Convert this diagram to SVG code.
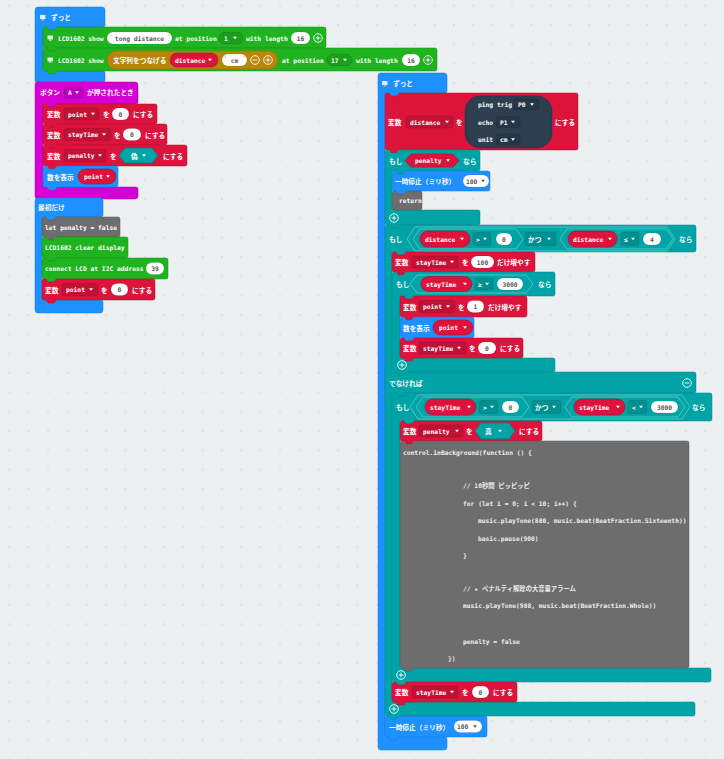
<svg xmlns="http://www.w3.org/2000/svg" width="724" height="759" viewBox="0 0 724 759">
<style>
text{dominant-baseline:central;font-weight:bold}
.m{font-family:"DejaVu Sans Mono","Noto Sans CJK JP",monospace;font-size:6.3px;fill:#fff}
.j{font-family:"Noto Sans CJK JP","Noto Sans",sans-serif;font-size:6.7px;fill:#fff}
.k{font-family:"DejaVu Sans Mono",monospace;font-size:6.3px;fill:#575757;text-anchor:middle}
.kd{font-family:"DejaVu Sans Mono",monospace;font-size:6.3px;fill:#575757}
.c{font-family:"DejaVu Sans Mono","Noto Sans CJK JP",monospace;font-size:6.3px;fill:#ededed}
.blue{fill:#1e90ff;stroke:#1a7ad9;stroke-width:.5}
.red{fill:#dc143c;stroke:#b41031;stroke-width:.5}
.teal{fill:#00a4a6;stroke:#008a8c;stroke-width:.5}
.purple{fill:#d400d4;stroke:#b000b0;stroke-width:.5}
.green{fill:#1fb41f;stroke:#189318;stroke-width:.5}
.gray{fill:#6d6d6d;stroke:#5a5a5a;stroke-width:.5}
.orange{fill:#b8860b;stroke:#9a700a;stroke-width:.5}
.sonar{fill:#2c3e50;stroke:#22303e;stroke-width:.5}
.dd{fill:rgba(0,0,0,.12);stroke:rgba(0,0,0,.22);stroke-width:.5}
.pill{fill:#fff;stroke:rgba(0,0,0,.15);stroke-width:.5}
.vr{fill:#dc143c;stroke:#a80f2e;stroke-width:.6}
.hx{fill:#00a4a6;stroke:#5fcbcc;stroke-width:.8}
.bt{fill:#00a4a6;stroke:#007c7e;stroke-width:.8}
.q{stroke:#999;stroke-width:.7}
</style>
<defs>
<path id="ar" d="M0,0h4l-2,2.5z"/>
<g id="plus"><circle r="4.3" fill="none" stroke="#fff" stroke-width=".9"/><path d="M-2.4,0h4.8M0,-2.4v4.8" stroke="#fff" stroke-width=".9"/></g>
<g id="minus"><circle r="4.3" fill="none" stroke="#fff" stroke-width=".9"/><path d="M-2.4,0h4.8" stroke="#fff" stroke-width=".9"/></g>
<g id="icon"><rect x="0" y="0" width="5.5" height="4" rx=".5" fill="#fff" fill-opacity=".85"/><path d="M1.5,4.8h2.5" stroke="#fff" stroke-width=".7"/></g>
<pattern id="dots" x="8.4" y="4.7" width="19.33" height="19.33" patternUnits="userSpaceOnUse"><circle cx="1" cy="1" r=".9" fill="#d6dadd"/></pattern>
</defs>
<rect width="724" height="759" fill="#ecf0f1"/>
<rect width="724" height="759" fill="url(#dots)"/>

<!-- LEFT: forever -->
<g id="forever-1">
<path class="blue" transform="translate(35,7)" d="M0,3 q0,-3 3,-3 H67 q3,0 3,3 V18 q0,2 -2,2 H22 l-2,3 h-6 l-2,-3 H10 q-2,0 -2,2 V62 q0,2 2,2 H68 q2,0 2,2 V73 q0,3 -3,3 H3 q-3,0 -3,-3 z"/>
<use href="#icon" x="40" y="15"/>
<text class="j" x="51" y="17">ずっと</text>
<g id="lcd-show-1">
<path class="green" transform="translate(43,27)" d="M0,2 q0,-2 2,-2 h2 l2,3 h6 l2,-3 H281 q2,0 2,2 V19 q0,2 -2,2 H14 l-2,3 h-6 l-2,-3 H2 q-2,0 -2,-2 z"/>
<use href="#icon" x="47.5" y="35.5"/>
<text class="m" x="58" y="38">LCD1602 show</text>
<rect class="pill" x="107" y="32" width="65" height="12" rx="6"/>
<path class="q" d="M110.5,34.5 l.8,1.6 M168.7,34.5 l.8,1.6"/>
<text class="k" x="139.5" y="38">tong distance</text>
<text class="m" x="175" y="38">at position</text>
<rect class="dd" x="219" y="32" width="24" height="12" rx="6"/>
<text class="m" x="224" y="38">1</text>
<use href="#ar" x="233" y="36.8" fill="#fff"/>
<text class="m" x="246" y="38">with length</text>
<rect class="pill" x="291" y="32" width="19" height="12" rx="6"/>
<text class="k" x="300.5" y="38">16</text>
<use href="#plus" x="318" y="38"/>
</g>
<g id="lcd-show-2">
<path class="green" transform="translate(43,48)" d="M0,2 q0,-2 2,-2 h2 l2,3 h6 l2,-3 H392 q2,0 2,2 V21 q0,2 -2,2 H14 l-2,3 h-6 l-2,-3 H2 q-2,0 -2,-2 z"/>
<use href="#icon" x="47.5" y="57.5"/>
<text class="m" x="58" y="60">LCD1602 show</text>
<g id="join">
<rect class="orange" x="107" y="51" width="171" height="18" rx="9"/>
<text class="j" x="113" y="60">文字列をつなげる</text>
<rect class="vr" x="170" y="53" width="48" height="14" rx="7"/>
<text class="m" x="175" y="60">distance</text>
<use href="#ar" x="208" y="58.8" fill="#fff"/>
<rect class="pill" x="222" y="54" width="25" height="12" rx="6"/>
<path class="q" d="M225,56 l.8,1.6 M243.5,56 l.8,1.6"/>
<text class="k" x="234.5" y="60">cm</text>
<use href="#minus" x="255" y="60"/>
<use href="#plus" x="268" y="60"/>
</g>
<text class="m" x="282" y="60">at position</text>
<rect class="dd" x="327" y="54" width="25" height="12" rx="6"/>
<text class="m" x="331" y="60">17</text>
<use href="#ar" x="343" y="58.8" fill="#fff"/>
<text class="m" x="356" y="60">with length</text>
<rect class="pill" x="402" y="54" width="18" height="12" rx="6"/>
<text class="k" x="411" y="60">16</text>
<use href="#plus" x="428" y="60"/>
</g>
</g>

<!-- LEFT: on button A -->
<g id="on-button-a">
<path class="purple" transform="translate(35,82)" d="M0,3 q0,-3 3,-3 H100 q3,0 3,3 V20 q0,2 -2,2 H22 l-2,3 h-6 l-2,-3 H10 q-2,0 -2,2 V103 q0,2 2,2 H101 q2,0 2,2 V114 q0,3 -3,3 H3 q-3,0 -3,-3 z"/>
<text class="j" x="40" y="92">ボタン</text>
<rect class="dd" x="64" y="87" width="19" height="11" rx="2"/>
<text class="m" x="68" y="92.5">A</text>
<use href="#ar" x="75" y="91.3" fill="#fff"/>
<text class="j" x="87" y="92">が押されたとき</text>
<g id="btn-set-point">
<path class="red" transform="translate(43,104)" d="M0,2 q0,-2 2,-2 h2 l2,3 h6 l2,-3 H112 q2,0 2,2 V18 q0,2 -2,2 H14 l-2,3 h-6 l-2,-3 H2 q-2,0 -2,-2 z"/>
<text class="j" x="47" y="114">変数</text>
<rect class="dd" x="64" y="108" width="35" height="12" rx="2"/>
<text class="m" x="68" y="114">point</text>
<use href="#ar" x="91" y="112.8" fill="#fff"/>
<text class="j" x="103" y="114">を</text>
<rect class="pill" x="112" y="108" width="17" height="12" rx="6"/>
<text class="k" x="120.5" y="114">0</text>
<text class="j" x="133" y="114">にする</text>
</g>
<g id="btn-set-staytime">
<path class="red" transform="translate(43,124)" d="M0,2 q0,-2 2,-2 h2 l2,3 h6 l2,-3 H122 q2,0 2,2 V19 q0,2 -2,2 H14 l-2,3 h-6 l-2,-3 H2 q-2,0 -2,-2 z"/>
<text class="j" x="47" y="134.5">変数</text>
<rect class="dd" x="64" y="128.5" width="47" height="12" rx="2"/>
<text class="m" x="68" y="134.5">stayTime</text>
<use href="#ar" x="102" y="133.3" fill="#fff"/>
<text class="j" x="114" y="134.5">を</text>
<rect class="pill" x="123" y="128.5" width="18" height="12" rx="6"/>
<text class="k" x="132" y="134.5">0</text>
<text class="j" x="145" y="134.5">にする</text>
</g>
<g id="btn-set-penalty">
<path class="red" transform="translate(43,145)" d="M0,2 q0,-2 2,-2 h2 l2,3 h6 l2,-3 H142 q2,0 2,2 V19 q0,2 -2,2 H14 l-2,3 h-6 l-2,-3 H2 q-2,0 -2,-2 z"/>
<text class="j" x="47" y="155.5">変数</text>
<rect class="dd" x="64" y="149.5" width="42" height="12" rx="2"/>
<text class="m" x="68" y="155.5">penalty</text>
<use href="#ar" x="98" y="154.3" fill="#fff"/>
<text class="j" x="110" y="155.5">を</text>
<polygon class="bt" points="119,155.5 125,148 152,148 158,155.5 152,163 125,163"/>
<text class="j" x="131" y="155.5">偽</text>
<use href="#ar" x="142" y="154.3" fill="#fff"/>
<text class="j" x="163" y="155.5">にする</text>
</g>
<g id="btn-show-number">
<path class="blue" transform="translate(43,166)" d="M0,2 q0,-2 2,-2 h2 l2,3 h6 l2,-3 H73 q2,0 2,2 V19 q0,2 -2,2 H14 l-2,3 h-6 l-2,-3 H2 q-2,0 -2,-2 z"/>
<text class="j" x="47" y="176.5">数を表示</text>
<rect class="vr" x="78" y="169" width="38" height="15" rx="7.5"/>
<text class="m" x="84" y="176.5">point</text>
<use href="#ar" x="106" y="175.3" fill="#fff"/>
</g>
</g>

<!-- LEFT: on start -->
<g id="on-start">
<path class="blue" transform="translate(35,198)" d="M0,3 q0,-3 3,-3 H65 q3,0 3,3 V17 q0,2 -2,2 H21 l-2,3 h-6 l-2,-3 H9 q-2,0 -2,2 V100 q0,2 2,2 H66 q2,0 2,2 V112 q0,3 -3,3 H3 q-3,0 -3,-3 z"/>
<text class="j" x="38" y="207">最初だけ</text>
<g id="let-penalty">
<path class="gray" transform="translate(42,217)" d="M0,2 q0,-2 2,-2 h2 l2,3 h6 l2,-3 H76 q2,0 2,2 V18 q0,2 -2,2 H14 l-2,3 h-6 l-2,-3 H2 q-2,0 -2,-2 z"/>
<text class="m" x="45" y="227">let penalty = false</text>
</g>
<g id="lcd-clear">
<path class="green" transform="translate(42,237)" d="M0,2 q0,-2 2,-2 h2 l2,3 h6 l2,-3 H84 q2,0 2,2 V19 q0,2 -2,2 H14 l-2,3 h-6 l-2,-3 H2 q-2,0 -2,-2 z"/>
<text class="m" x="45" y="247.5">LCD1602 clear display</text>
</g>
<g id="lcd-connect">
<path class="green" transform="translate(42,258)" d="M0,2 q0,-2 2,-2 h2 l2,3 h6 l2,-3 H124 q2,0 2,2 V19 q0,2 -2,2 H14 l-2,3 h-6 l-2,-3 H2 q-2,0 -2,-2 z"/>
<text class="m" x="45" y="268.5">connect LCD at I2C address</text>
<rect class="pill" x="146" y="262.5" width="18" height="12" rx="6"/>
<text class="k" x="155" y="268.5">39</text>
</g>
<g id="start-set-point">
<path class="red" transform="translate(42,279)" d="M0,2 q0,-2 2,-2 h2 l2,3 h6 l2,-3 H111 q2,0 2,2 V19 q0,2 -2,2 H14 l-2,3 h-6 l-2,-3 H2 q-2,0 -2,-2 z"/>
<text class="j" x="45" y="289.5">変数</text>
<rect class="dd" x="62" y="283.5" width="36" height="12" rx="2"/>
<text class="m" x="66" y="289.5">point</text>
<use href="#ar" x="89" y="288.3" fill="#fff"/>
<text class="j" x="101" y="289.5">を</text>
<rect class="pill" x="111" y="283.5" width="17" height="12" rx="6"/>
<text class="k" x="119.5" y="289.5">0</text>
<text class="j" x="132" y="289.5">にする</text>
</g>
</g>

<!-- RIGHT: forever -->
<g id="forever-2">
<path class="blue" transform="translate(378,73)" d="M0,3 q0,-3 3,-3 H66 q3,0 3,3 V18 q0,2 -2,2 H21 l-2,3 h-6 l-2,-3 H9 q-2,0 -2,2 V662 q0,2 2,2 H67 q2,0 2,2 V674 q0,3 -3,3 H3 q-3,0 -3,-3 z"/>
<use href="#icon" x="382" y="81"/>
<text class="j" x="393" y="83">ずっと</text>

<g id="set-distance">
<path class="red" transform="translate(385,93)" d="M0,2 q0,-2 2,-2 h2 l2,3 h6 l2,-3 H191 q2,0 2,2 V55 q0,2 -2,2 H14 l-2,3 h-6 l-2,-3 H2 q-2,0 -2,-2 z"/>
<text class="j" x="388" y="122">変数</text>
<rect class="dd" x="406" y="116" width="47" height="12" rx="2"/>
<text class="m" x="410" y="122">distance</text>
<use href="#ar" x="445" y="120.8" fill="#fff"/>
<text class="j" x="456" y="122">を</text>
<g id="ping">
<rect class="sonar" x="465" y="96" width="87" height="52" rx="15"/>
<text class="m" x="478" y="104.5">ping trig</text>
<rect class="dd" x="514" y="99" width="25" height="11" rx="2"/>
<text class="m" x="518" y="104.5">P0</text>
<use href="#ar" x="530" y="103.3" fill="#fff"/>
<text class="m" x="478" y="122">echo</text>
<rect class="dd" x="496" y="116.5" width="24" height="11" rx="2"/>
<text class="m" x="500" y="122">P1</text>
<use href="#ar" x="511" y="120.8" fill="#fff"/>
<text class="m" x="478" y="139.5">unit</text>
<rect class="dd" x="496" y="134" width="24" height="11" rx="2"/>
<text class="m" x="500" y="139.5">cm</text>
<use href="#ar" x="511" y="138.3" fill="#fff"/>
</g>
<text class="j" x="555" y="122">にする</text>
</g>

<g id="if-penalty">
<path class="teal" transform="translate(385,150)" d="M0,2 q0,-2 2,-2 h2 l2,3 h6 l2,-3 H93 q2,0 2,2 V19 q0,2 -2,2 H21 l-2,3 h-6 l-2,-3 H9 q-2,0 -2,2 V58 q0,2 2,2 H93 q2,0 2,2 V73 q0,2 -2,2 H14 l-2,3 h-6 l-2,-3 H2 q-2,0 -2,-2 z"/>
<text class="j" x="389" y="160.5">もし</text>
<polygon class="vr" points="405,160.5 411,154 453,154 459,160.5 453,167 411,167"/>
<text class="m" x="415" y="160.5">penalty</text>
<use href="#ar" x="446" y="159.3" fill="#fff"/>
<text class="j" x="463" y="160.5">なら</text>
<g id="pause-1">
<path class="blue" transform="translate(392,171)" d="M0,2 q0,-2 2,-2 h2 l2,3 h6 l2,-3 H96 q2,0 2,2 V18 q0,2 -2,2 H14 l-2,3 h-6 l-2,-3 H2 q-2,0 -2,-2 z"/>
<text class="j" x="395" y="181">一時停止（ミリ秒）</text>
<rect class="pill" x="463" y="175" width="26" height="12" rx="6"/>
<text class="kd" x="466" y="181">100</text>
<use href="#ar" x="481" y="179.8" fill="#575757"/>
</g>
<g id="return">
<path class="gray" transform="translate(392,191)" d="M0,2 q0,-2 2,-2 h2 l2,3 h6 l2,-3 H28 q2,0 2,2 V17 q0,2 -2,2 H2 q-2,0 -2,-2 z"/>
<text class="m" x="399" y="200.5">return</text>
</g>
<use href="#plus" x="394" y="218"/>
</g>

<g id="if-distance">
<path class="teal" transform="translate(385,225)" d="M0,2 q0,-2 2,-2 h2 l2,3 h6 l2,-3 H309 q2,0 2,2 V25 q0,2 -2,2 H21 l-2,3 h-6 l-2,-3 H9 q-2,0 -2,2 V145 q0,2 2,2 H309 q2,0 2,2 V166 q0,2 -2,2 H21 l-2,3 h-6 l-2,-3 H9 q-2,0 -2,2 V475 q0,2 2,2 H308 q2,0 2,2 V489 q0,2 -2,2 H14 l-2,3 h-6 l-2,-3 H2 q-2,0 -2,-2 z"/>
<text class="j" x="389" y="239">もし</text>
<polygon class="hx" points="407,239 415,227 667,227 675,239 667,251 415,251"/>
<polygon class="hx" points="413,239 420,229 516,229 523,239 516,249 420,249"/>
<rect class="vr" x="420" y="231" width="50" height="16" rx="8"/>
<text class="m" x="425" y="239">distance</text>
<use href="#ar" x="460" y="237.8" fill="#fff"/>
<rect class="dd" x="473" y="232.5" width="18" height="13" rx="2"/>
<text class="m" x="476" y="239">&gt;</text>
<use href="#ar" x="483" y="237.8" fill="#fff"/>
<rect class="pill" x="496" y="233" width="16" height="12" rx="6"/>
<text class="k" x="504" y="239">0</text>
<rect class="dd" x="525" y="232.5" width="31" height="13" rx="2"/>
<text class="j" x="528" y="239">かつ</text>
<use href="#ar" x="547" y="237.8" fill="#fff"/>
<polygon class="hx" points="560,239 567,229 666,229 673,239 666,249 567,249"/>
<rect class="vr" x="568" y="231" width="49" height="16" rx="8"/>
<text class="m" x="573" y="239">distance</text>
<use href="#ar" x="608" y="237.8" fill="#fff"/>
<rect class="dd" x="621" y="232.5" width="18" height="13" rx="2"/>
<text class="m" x="624" y="239">≤</text>
<use href="#ar" x="631" y="237.8" fill="#fff"/>
<rect class="pill" x="643" y="233" width="18" height="12" rx="6"/>
<text class="k" x="652" y="239">4</text>
<text class="j" x="679" y="239">なら</text>

<g id="change-staytime">
<path class="red" transform="translate(392,252)" d="M0,2 q0,-2 2,-2 h2 l2,3 h6 l2,-3 H141 q2,0 2,2 V18 q0,2 -2,2 H14 l-2,3 h-6 l-2,-3 H2 q-2,0 -2,-2 z"/>
<text class="j" x="395" y="262">変数</text>
<rect class="dd" x="412" y="256" width="46" height="12" rx="2"/>
<text class="m" x="416" y="262">stayTime</text>
<use href="#ar" x="450" y="260.8" fill="#fff"/>
<text class="j" x="462" y="262">を</text>
<rect class="pill" x="471" y="256" width="23" height="12" rx="6"/>
<text class="k" x="482.5" y="262">100</text>
<text class="j" x="497" y="262">だけ増やす</text>
</g>

<g id="if-staytime-3000">
<path class="teal" transform="translate(392,272)" d="M0,2 q0,-2 2,-2 h2 l2,3 h6 l2,-3 H161 q2,0 2,2 V22 q0,2 -2,2 H22 l-2,3 h-6 l-2,-3 H10 q-2,0 -2,2 V84 q0,2 2,2 H161 q2,0 2,2 V98 q0,2 -2,2 H14 l-2,3 h-6 l-2,-3 H2 q-2,0 -2,-2 z"/>
<text class="j" x="396" y="284">もし</text>
<polygon class="hx" points="410,284 417,275 526,275 533,284 526,293 417,293"/>
<rect class="vr" x="421" y="276.5" width="51" height="15" rx="7.5"/>
<text class="m" x="426" y="284">stayTime</text>
<use href="#ar" x="463" y="282.8" fill="#fff"/>
<rect class="dd" x="475" y="278" width="18" height="12" rx="2"/>
<text class="m" x="478" y="284">≥</text>
<use href="#ar" x="485" y="282.8" fill="#fff"/>
<rect class="pill" x="497" y="278" width="26" height="12" rx="6"/>
<text class="k" x="510" y="284">3000</text>
<text class="j" x="538" y="284">なら</text>
<g id="change-point">
<path class="red" transform="translate(400,296)" d="M0,2 q0,-2 2,-2 h2 l2,3 h6 l2,-3 H125 q2,0 2,2 V19 q0,2 -2,2 H14 l-2,3 h-6 l-2,-3 H2 q-2,0 -2,-2 z"/>
<text class="j" x="403" y="306.5">変数</text>
<rect class="dd" x="419" y="300.5" width="36" height="12" rx="2"/>
<text class="m" x="423" y="306.5">point</text>
<use href="#ar" x="446" y="305.3" fill="#fff"/>
<text class="j" x="458" y="306.5">を</text>
<rect class="pill" x="467" y="300.5" width="17" height="12" rx="6"/>
<text class="k" x="475.5" y="306.5">1</text>
<text class="j" x="488" y="306.5">だけ増やす</text>
</g>
<g id="show-number-2">
<path class="blue" transform="translate(400,317)" d="M0,2 q0,-2 2,-2 h2 l2,3 h6 l2,-3 H72 q2,0 2,2 V19 q0,2 -2,2 H14 l-2,3 h-6 l-2,-3 H2 q-2,0 -2,-2 z"/>
<text class="j" x="403" y="327.5">数を表示</text>
<rect class="vr" x="433" y="320" width="40" height="15" rx="7.5"/>
<text class="m" x="439" y="327.5">point</text>
<use href="#ar" x="463" y="326.3" fill="#fff"/>
</g>
<g id="reset-staytime-1">
<path class="red" transform="translate(400,338)" d="M0,2 q0,-2 2,-2 h2 l2,3 h6 l2,-3 H121 q2,0 2,2 V18 q0,2 -2,2 H14 l-2,3 h-6 l-2,-3 H2 q-2,0 -2,-2 z"/>
<text class="j" x="403" y="348">変数</text>
<rect class="dd" x="419" y="342" width="47" height="12" rx="2"/>
<text class="m" x="423" y="348">stayTime</text>
<use href="#ar" x="457" y="346.8" fill="#fff"/>
<text class="j" x="469" y="348">を</text>
<rect class="pill" x="478" y="342" width="18" height="12" rx="6"/>
<text class="k" x="487" y="348">0</text>
<text class="j" x="500" y="348">にする</text>
</g>
<use href="#plus" x="402" y="365"/>
</g>

<text class="j" x="389" y="382.5">でなければ</text>
<use href="#minus" x="687" y="383"/>

<g id="if-staytime-range">
<path class="teal" transform="translate(392,393)" d="M0,2 q0,-2 2,-2 h2 l2,3 h6 l2,-3 H318 q2,0 2,2 V26 q0,2 -2,2 H22 l-2,3 h-6 l-2,-3 H10 q-2,0 -2,2 V273 q0,2 2,2 H317 q2,0 2,2 V287 q0,2 -2,2 H14 l-2,3 h-6 l-2,-3 H2 q-2,0 -2,-2 z"/>
<text class="j" x="396" y="407">もし</text>
<polygon class="hx" points="410,407 418,395 682,395 690,407 682,419 418,419"/>
<polygon class="hx" points="416,407 423,397 522,397 529,407 522,417 423,417"/>
<rect class="vr" x="425" y="399" width="51" height="16" rx="8"/>
<text class="m" x="430" y="407">stayTime</text>
<use href="#ar" x="467" y="405.8" fill="#fff"/>
<rect class="dd" x="479" y="400.5" width="19" height="13" rx="2"/>
<text class="m" x="483" y="407">&gt;</text>
<use href="#ar" x="490" y="405.8" fill="#fff"/>
<rect class="pill" x="502" y="401" width="17" height="12" rx="6"/>
<text class="k" x="510.5" y="407">0</text>
<rect class="dd" x="532" y="400.5" width="29" height="13" rx="2"/>
<text class="j" x="535" y="407">かつ</text>
<use href="#ar" x="552" y="405.8" fill="#fff"/>
<polygon class="hx" points="565,407 572,397 678,397 685,407 678,417 572,417"/>
<rect class="vr" x="574" y="399" width="51" height="16" rx="8"/>
<text class="m" x="579" y="407">stayTime</text>
<use href="#ar" x="616" y="405.8" fill="#fff"/>
<rect class="dd" x="628" y="400.5" width="19" height="13" rx="2"/>
<text class="m" x="632" y="407">&lt;</text>
<use href="#ar" x="639" y="405.8" fill="#fff"/>
<rect class="pill" x="651" y="401" width="27" height="12" rx="6"/>
<text class="k" x="664.5" y="407">3000</text>
<text class="j" x="692" y="407">なら</text>
<g id="set-penalty-true">
<path class="red" transform="translate(400,421)" d="M0,2 q0,-2 2,-2 h2 l2,3 h6 l2,-3 H140 q2,0 2,2 V18 q0,2 -2,2 H14 l-2,3 h-6 l-2,-3 H2 q-2,0 -2,-2 z"/>
<text class="j" x="403" y="431">変数</text>
<rect class="dd" x="419" y="425" width="44" height="12" rx="2"/>
<text class="m" x="423" y="431">penalty</text>
<use href="#ar" x="455" y="429.8" fill="#fff"/>
<text class="j" x="466" y="431">を</text>
<polygon class="bt" points="475,431 481,423 509,423 515,431 509,439 481,439"/>
<text class="j" x="485" y="431">真</text>
<use href="#ar" x="498" y="429.8" fill="#fff"/>
<text class="j" x="519" y="431">にする</text>
</g>
<g id="code-block">
<path class="gray" transform="translate(400,441)" d="M0,2 q0,-2 2,-2 h2 l2,3 h6 l2,-3 H287 q2,0 2,2 V225 q0,2 -2,2 H14 l-2,3 h-6 l-2,-3 H2 q-2,0 -2,-2 z"/>
<text class="c" x="403" y="452">control.inBackground(function () {</text>
<text class="c" x="463" y="485">// 10秒間 ピッピッピ</text>
<text class="c" x="463" y="503">for (let i = 0; i &lt; 10; i++) {</text>
<text class="c" x="478" y="520">music.playTone(880, music.beat(BeatFraction.Sixteenth))</text>
<text class="c" x="478" y="538">basic.pause(900)</text>
<text class="c" x="463" y="555">}</text>
<text class="c" x="463" y="588">// ★ ペナルティ解除の大音量アラーム</text>
<text class="c" x="463" y="605">music.playTone(988, music.beat(BeatFraction.Whole))</text>
<text class="c" x="463" y="641">penalty = false</text>
<text class="c" x="448" y="658">})</text>
</g>
<use href="#plus" x="401" y="675"/>
</g>

<g id="reset-staytime-2">
<path class="red" transform="translate(392,682)" d="M0,2 q0,-2 2,-2 h2 l2,3 h6 l2,-3 H123 q2,0 2,2 V18 q0,2 -2,2 H14 l-2,3 h-6 l-2,-3 H2 q-2,0 -2,-2 z"/>
<text class="j" x="395" y="692">変数</text>
<rect class="dd" x="412" y="686" width="46" height="12" rx="2"/>
<text class="m" x="416" y="692">stayTime</text>
<use href="#ar" x="450" y="690.8" fill="#fff"/>
<text class="j" x="462" y="692">を</text>
<rect class="pill" x="472" y="686" width="17" height="12" rx="6"/>
<text class="k" x="480.5" y="692">0</text>
<text class="j" x="493" y="692">にする</text>
</g>
<use href="#plus" x="394" y="709"/>
</g>

<g id="pause-2">
<path class="blue" transform="translate(385,716)" d="M0,2 q0,-2 2,-2 h2 l2,3 h6 l2,-3 H100 q2,0 2,2 V19 q0,2 -2,2 H14 l-2,3 h-6 l-2,-3 H2 q-2,0 -2,-2 z"/>
<text class="j" x="389" y="726.5">一時停止（ミリ秒）</text>
<rect class="pill" x="454" y="720.5" width="28" height="12" rx="6"/>
<text class="kd" x="457" y="726.5">100</text>
<use href="#ar" x="473" y="725.3" fill="#575757"/>
</g>
</g>
</svg>
